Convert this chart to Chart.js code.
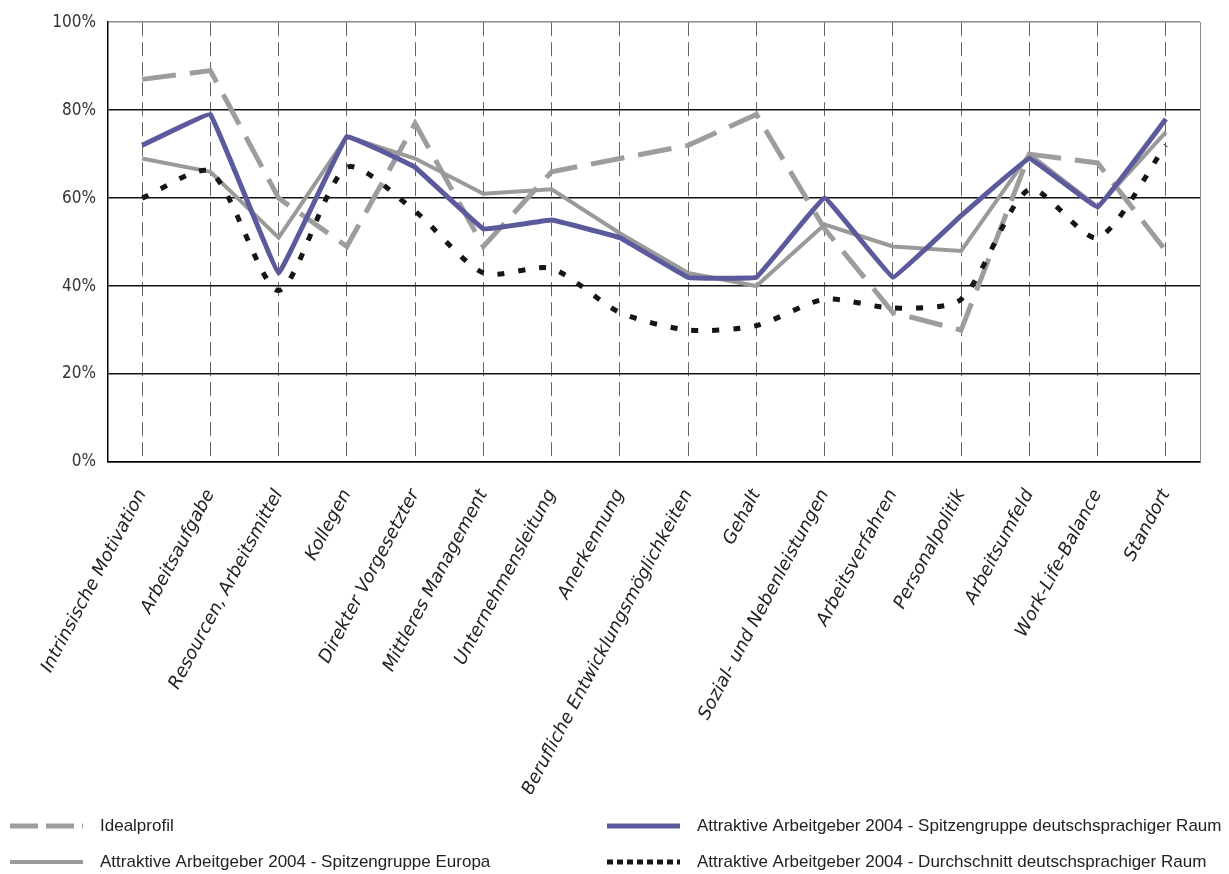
<!DOCTYPE html>
<html lang="de">
<head>
<meta charset="utf-8">
<title>Arbeitgeberprofil</title>
<script src="https://cdn.jsdelivr.net/npm/chart.js"></script>
<style>
  html, body { margin: 0; padding: 0; background: #fff; }
  #wrap { width: 1229px; height: 874px; position: relative; }
</style>
</head>
<body>
<div id="wrap"><canvas id="profil"></canvas></div>
<script>
// Kategorien und Werte (Prozent)
const kategorien = [
  "Intrinsische Motivation", "Arbeitsaufgabe", "Resourcen, Arbeitsmittel", "Kollegen",
  "Direkter Vorgesetzter", "Mittleres Management", "Unternehmensleitung", "Anerkennung",
  "Berufliche Entwicklungsmöglichkeiten", "Gehalt", "Sozial- und Nebenleistungen",
  "Arbeitsverfahren", "Personalpolitik", "Arbeitsumfeld", "Work-Life-Balance", "Standort"
];
const idealprofil      = [87, 89, 60, 49, 77, 49, 66, 69, 72, 79, 53, 34, 30, 70, 68, 48];
const spitzeDach       = [72, 79, 43, 74, 67, 53, 55, 51, 42, 42, 60, 42, 56, 69, 58, 78];
const spitzeEuropa     = [69, 66, 51, 74, 69, 61, 62, 52, 43, 40, 54, 49, 48, 70, 58, 75];
const durchschnittDach = [60, 66, 39, 67, 57, 43, 44, 34, 30, 31, 37, 35, 37, 62, 51, 72];
const yTicks = [0, 20, 40, 60, 80, 100];

const namen = {
  ideal: "Idealprofil",
  dach: "Attraktive Arbeitgeber 2004 - Spitzengruppe deutschsprachiger Raum",
  europa: "Attraktive Arbeitgeber 2004 - Spitzengruppe Europa",
  schnitt: "Attraktive Arbeitgeber 2004 - Durchschnitt deutschsprachiger Raum"
};

// rechter Rahmen + Legende in zwei Spalten unten
const rahmenUndLegende = {
  id: "rahmenUndLegende",
  beforeDatasetsDraw(chart) {
    const { ctx, chartArea } = chart;
    ctx.save();
    ctx.strokeStyle = "#8c8c8c";
    ctx.lineWidth = 1;
    ctx.beginPath();
    ctx.moveTo(chartArea.right + 0.5, chartArea.top);
    ctx.lineTo(chartArea.right + 0.5, chartArea.bottom);
    ctx.stroke();
    ctx.restore();
  },
  afterDraw(chart) {
    const ctx = chart.ctx;
    const ds = chart.data.datasets;
    const eintraege = [
      { d: ds[0], x: 10, y: 826 },
      { d: ds[3], x: 607, y: 826 },
      { d: ds[1], x: 10, y: 862 },
      { d: ds[2], x: 607, y: 862 }
    ];
    ctx.save();
    eintraege.forEach(e => {
      ctx.strokeStyle = e.d.borderColor;
      ctx.lineWidth = e.d.borderWidth;
      ctx.setLineDash(e.d.legendDash || []);
      ctx.beginPath();
      ctx.moveTo(e.x, e.y);
      ctx.lineTo(e.x + 73, e.y);
      ctx.stroke();
      ctx.setLineDash([]);
      ctx.fillStyle = "#222";
      ctx.font = "17px 'Liberation Sans', Arial, sans-serif";
      ctx.textBaseline = "middle";
      ctx.fillText(e.d.label, e.x + 90, e.y);
    });
    ctx.restore();
  }
};

new Chart(document.getElementById("profil"), {
  type: "line",
  data: {
    labels: kategorien,
    datasets: [
      {
        label: namen.ideal,
        data: idealprofil,
        borderColor: "#9d9d9d",
        borderWidth: 5,
        borderDash: [34, 14],
        legendDash: [28, 8],
        tension: 0,
        order: 4
      },
      {
        label: namen.europa,
        data: spitzeEuropa,
        borderColor: "#9a9a9a",
        borderWidth: 4,
        tension: 0,
        order: 3
      },
      {
        label: namen.schnitt,
        data: durchschnittDach,
        borderColor: "#151515",
        borderWidth: 5,
        borderDash: [7, 14],
        legendDash: [6, 4],
        tension: 0.25,
        order: 1
      },
      {
        label: namen.dach,
        data: spitzeDach,
        borderColor: "#5a5a9c",
        borderWidth: 5,
        tension: 0.05,
        order: 2
      }
    ]
  },
  options: {
    responsive: true,
    maintainAspectRatio: false,
    animation: false,
    elements: { point: { radius: 0, hoverRadius: 0 } },
    layout: { padding: { top: 22, right: 29, bottom: 80, left: 0 } },
    scales: {
      x: {
        offset: true,
        grid: { color: "#666", lineWidth: 1, drawTicks: false, offset: false },
        border: { color: "#000", width: 1.5, dash: [14, 6] },
        ticks: {
          autoSkip: false,
          minRotation: 62,
          maxRotation: 62,
          padding: 24,
          color: "#222",
          font: { family: "'DejaVu Sans', sans-serif", size: 18, style: "italic" }
        },
        afterFit(scale) { scale.height = 332; }
      },
      y: {
        min: 0,
        max: 100,
        afterBuildTicks(scale) { scale.ticks = yTicks.map(v => ({ value: v })); },
        grid: {
          drawTicks: false,
          lineWidth: 1.5,
          color: ctx => (ctx.tick && ctx.tick.value === 100 ? "#8c8c8c" : "#111")
        },
        border: { color: "#000", width: 1.5 },
        ticks: {
          padding: 12,
          color: "#333",
          font: { family: "'Liberation Sans Narrow', 'DejaVu Sans Condensed', sans-serif", size: 17 },
          callback: v => v + "%"
        },
        afterFit(scale) { scale.width = 108; }
      }
    },
    plugins: {
      legend: { display: false },
      tooltip: { enabled: false }
    }
  },
  plugins: [rahmenUndLegende]
});
</script>
</body>
</html>
